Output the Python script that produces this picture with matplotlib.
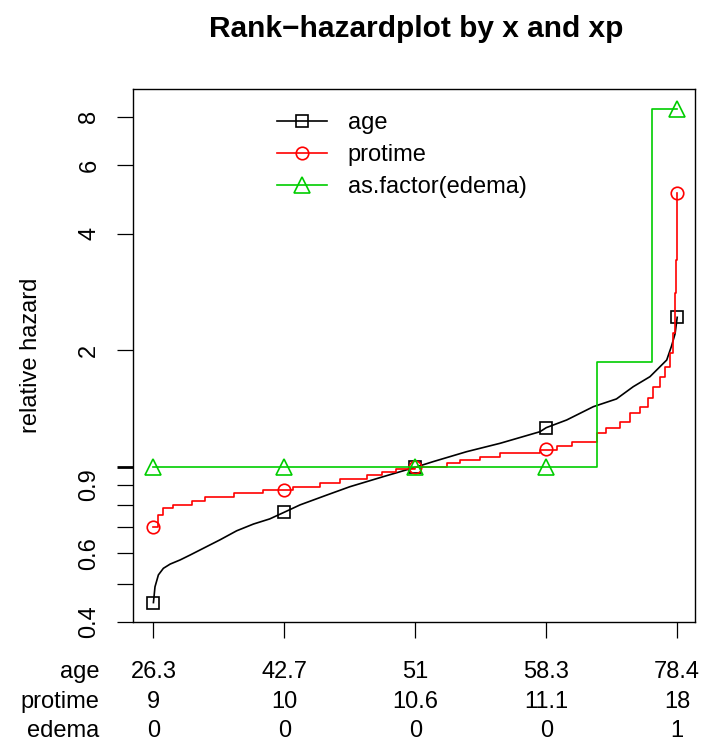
import matplotlib
matplotlib.use('Agg')
import matplotlib.pyplot as plt
from matplotlib.lines import Line2D
from matplotlib.ticker import NullLocator, FixedLocator, FixedFormatter
import matplotlib.transforms as mtransforms

plt.rcParams['font.family'] = ['Liberation Sans', 'DejaVu Sans']

# ---- values ----
# age: relative hazard along relative rank (nearly smooth curve)
age_rank = [0, 0.003, 0.0095, 0.019, 0.032, 0.051, 0.070, 0.095, 0.127, 0.159, 0.191, 0.222,
            0.25, 0.280, 0.331, 0.375, 0.439, 0.5, 0.534, 0.598, 0.662, 0.738, 0.75, 0.789,
            0.840, 0.884, 0.916, 0.948, 0.980, 0.989, 0.996, 1.0]
age_hr = [0.448, 0.492, 0.528, 0.549, 0.563, 0.577, 0.594, 0.618, 0.650, 0.686, 0.714, 0.736,
          0.766, 0.800, 0.848, 0.891, 0.946, 1.0, 1.034, 1.097, 1.153, 1.235, 1.265, 1.324,
          1.433, 1.50, 1.613, 1.712, 1.89, 2.05, 2.21, 2.435]

# protime: step curve
prot_rank = [0, 0.0084, 0.018, 0.038, 0.073, 0.099, 0.153, 0.21, 0.267, 0.318, 0.356, 0.407,
             0.436, 0.464, 0.5, 0.56, 0.585, 0.624, 0.662, 0.738, 0.77, 0.80, 0.846, 0.865,
             0.891, 0.91, 0.929, 0.945, 0.954, 0.967, 0.977, 0.986, 0.992, 0.996, 0.998, 1.0]
prot_hr = [0.700, 0.753, 0.784, 0.800, 0.819, 0.837, 0.857, 0.874, 0.891, 0.913, 0.931, 0.955,
           0.974, 0.988, 1.0, 1.024, 1.044, 1.061, 1.087, 1.108, 1.135, 1.164, 1.224, 1.26,
           1.311, 1.378, 1.433, 1.506, 1.613, 1.712, 1.817, 1.967, 2.215, 2.81, 3.42, 5.08]

# as.factor(edema): three levels
edema_rank = [0, 0.846, 0.952, 1.0]
edema_hr = [1.0, 1.865, 8.38, 8.38]

# markers at the quantiles (min, q1, median, q3, max)
quant_rank = [0, 0.25, 0.5, 0.75, 1.0]
age_mark = [0.448, 0.766, 1.0, 1.265, 2.435]
prot_mark = [0.700, 0.874, 1.0, 1.115, 5.08]
edema_mark = [1.0, 1.0, 1.0, 1.0, 8.38]

# x axis labels (covariate values at the quantiles)
row_names = ['age', 'protime', 'edema']
age_ticks = ['26.3', '42.7', '51', '58.3', '78.4']
protime_ticks = ['9', '10', '10.6', '11.1', '18']
edema_ticks = ['0', '0', '0', '0', '1']

yticks = [0.4, 0.5, 0.6, 0.7, 0.8, 0.9, 1, 2, 4, 6, 8]
yticklabels = ['0.4', '', '0.6', '', '', '0.9', '', '2', '4', '6', '8']

col_age = 'black'
col_prot = '#FF0000'
col_edema = '#00CD00'
lw = 1.2

fig = plt.figure(figsize=(7.05, 7.47), dpi=100)
ax = fig.add_axes([133 / 705, 1 - 622.3 / 747, (695 - 133) / 705, (622.3 - 89) / 747])

ax.plot(age_rank, age_hr, color=col_age, lw=lw)
ax.plot(quant_rank, age_mark, ls='none', marker='s', ms=8.5, mfc='none', mec=col_age, mew=1.2)
ax.plot(prot_rank, prot_hr, color=col_prot, lw=lw, drawstyle='steps-post')
ax.plot(quant_rank, prot_mark, ls='none', marker='o', ms=9, mfc='none', mec=col_prot, mew=1.2)
ax.plot(edema_rank, edema_hr, color=col_edema, lw=lw, drawstyle='steps-post')
ax.plot(quant_rank, edema_mark, ls='none', marker='^', ms=11, mfc='none', mec=col_edema, mew=1.2)

ax.set_yscale('log')
ax.set_xlim(-0.039, 1.034)
ax.set_ylim(0.3985, 9.44)

ax.yaxis.set_major_locator(FixedLocator(yticks))
ax.yaxis.set_major_formatter(FixedFormatter(yticklabels))
ax.yaxis.set_minor_locator(NullLocator())
ax.set_xticks(quant_rank)
ax.set_xticklabels([])
ax.tick_params(axis='both', length=11.5, width=0.9, direction='out', labelsize=17)
ax.tick_params(axis='y', pad=12)
for lab in ax.get_yticklabels():
    lab.set_rotation(90)
    lab.set_va('center')
# the tick at 1 looks heavier in the reference
ax.yaxis.get_major_ticks()[yticks.index(1)].tick1line.set_markeredgewidth(2.0)

for sp in ax.spines.values():
    sp.set_linewidth(1.0)

# multi-row x labels
trans = mtransforms.blended_transform_factory(ax.transData, ax.transAxes)
for i, r in enumerate(quant_rank):
    ax.text(r, -0.072, age_ticks[i] + '\n' + protime_ticks[i] + '\n' + edema_ticks[i],
            transform=trans, ha='center', va='top', fontsize=17, linespacing=1.46)
fig.text(99.5 / 705, 1 - 622.3 / 747 - 0.072 * (622.3 - 89) / 747, '\n'.join(row_names),
         ha='right', va='top', fontsize=17, linespacing=1.46, multialignment='right')

ax.set_ylabel('relative hazard', fontsize=17, labelpad=26)
fig.text(416 / 705, 1 - 29 / 747, 'Rank\u2212hazardplot by x and xp', ha='center', va='center',
         fontsize=21.5, fontweight='bold')

handles = [
    Line2D([], [], color=col_age, lw=lw, marker='s', ms=8.5, mfc='none', mew=1.2),
    Line2D([], [], color=col_prot, lw=lw, marker='o', ms=9, mfc='none', mew=1.2),
    Line2D([], [], color=col_edema, lw=lw, marker='^', ms=11, mfc='none', mew=1.2),
]
ax.legend(handles, ['age', 'protime', 'as.factor(edema)'], loc='upper left',
          bbox_to_anchor=(277 / 705, 1 - 112 / 747), bbox_transform=fig.transFigure,
          frameon=False, fontsize=17, handlelength=2.1, handletextpad=0.9,
          labelspacing=0.42, borderpad=0, borderaxespad=0)

fig.savefig('out.png', dpi=100)
